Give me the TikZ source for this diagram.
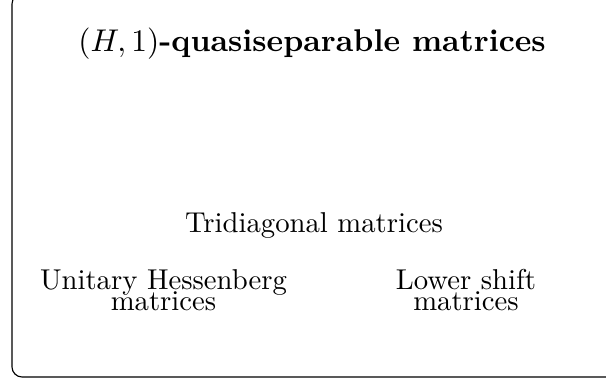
\documentclass[tikz,border=0pt]{standalone}
\begin{document}
\begin{tikzpicture}[x=0.3484pt,y=-0.3484pt,
  lbl/.style={inner sep=0pt,outer sep=0pt,anchor=base},
  two/.style={lbl,align=center,font={\baselineskip=7pt\lineskiplimit=-100pt\lineskip=0pt}}]
\useasboundingbox (0,0) rectangle (606,382);
\clip (0,0) rectangle (606,382);
\draw[line width=0.4pt,rounded corners=3.5pt] (12,-6) rectangle (640,377);
\node[lbl,font={\fontsize{10.95}{13.6}\selectfont}] (title) at (312,52) {\textbf{$(H,1)$-quasiseparable matrices}};
\node[lbl] (tri) at (314,233) {Tridiagonal matrices};
\node[two] (uh) at (163.5,310) {Unitary Hessenberg\\matrices};
\node[two] (ls) at (466,310) {Lower shift\\matrices};
\end{tikzpicture}
\end{document}
